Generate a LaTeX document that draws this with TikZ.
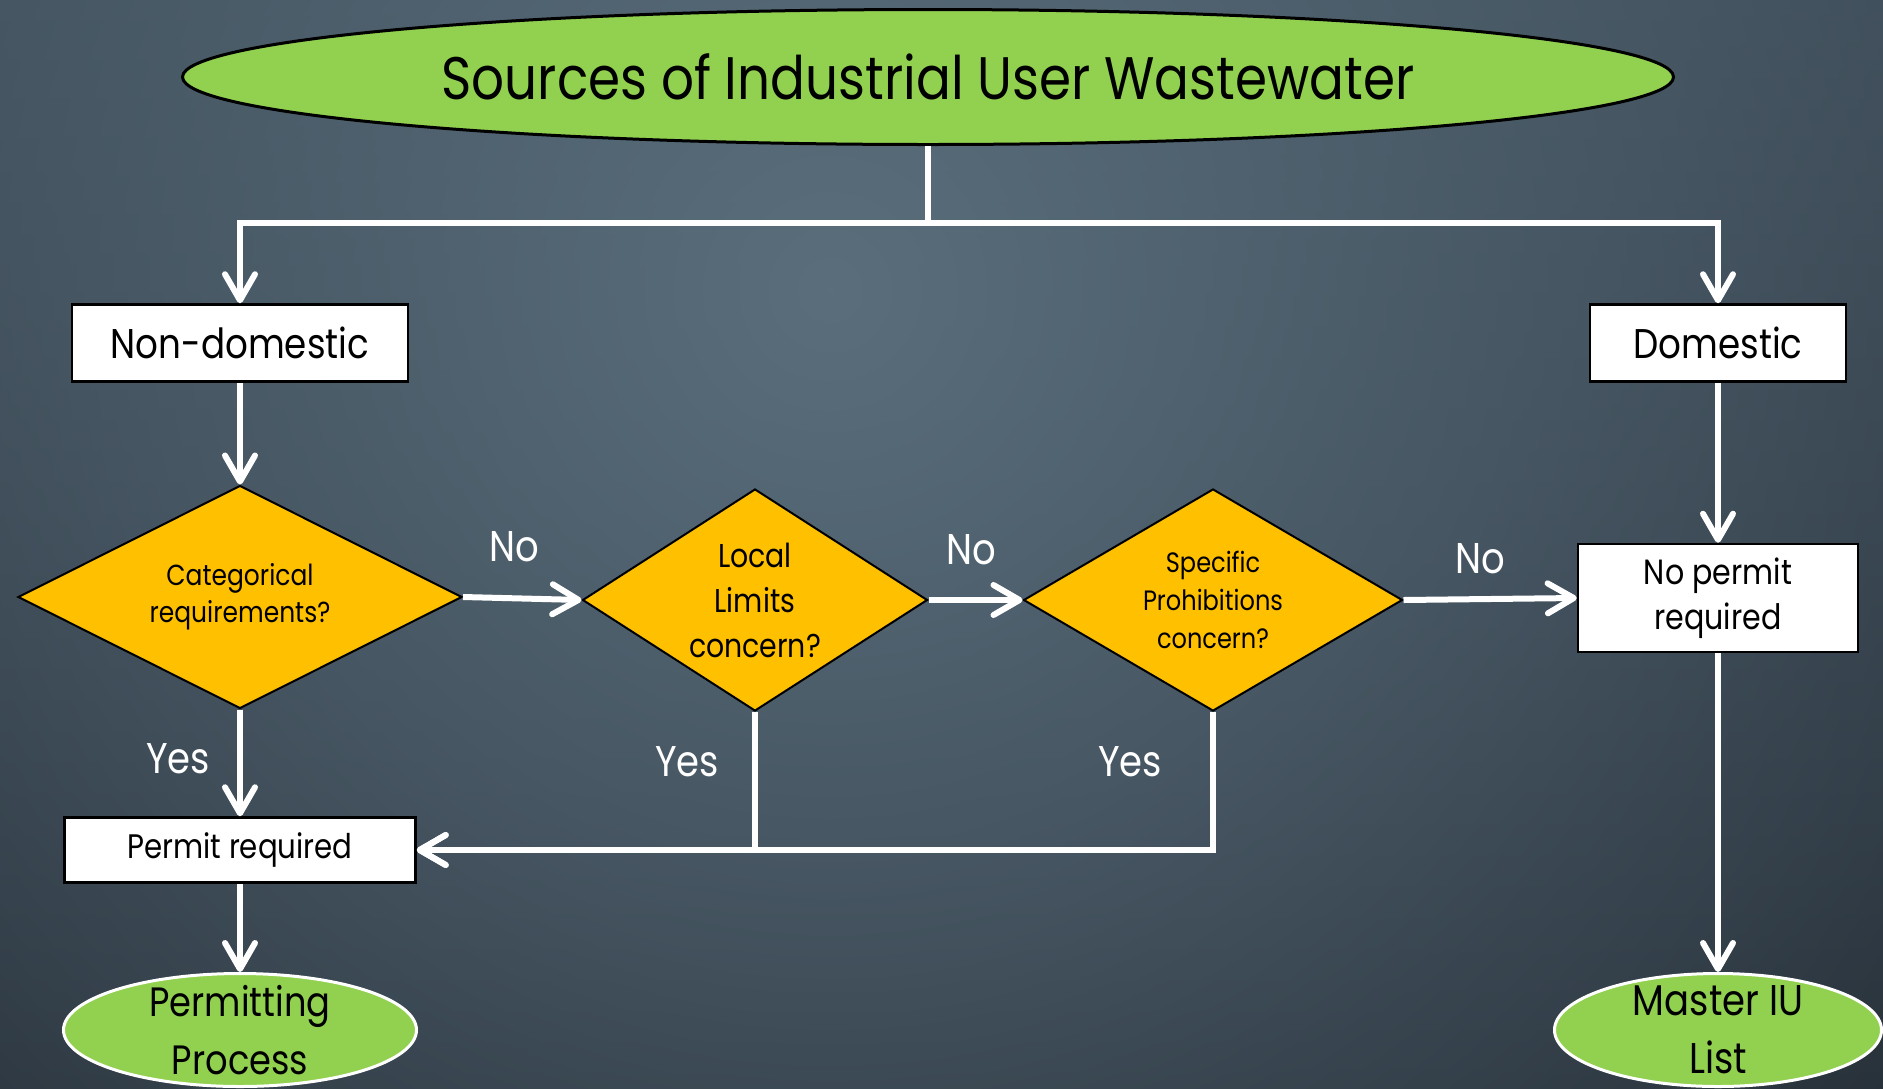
\documentclass[tikz,border=0pt]{standalone}
\usepackage{fontspec}
\setmainfont{Poppins}[FakeStretch=0.86]
\usetikzlibrary{arrows.meta,shapes.geometric,fadings}

\definecolor{leafgreen}{HTML}{92D050}
\definecolor{amber}{HTML}{FFC000}
\definecolor{slatetop}{HTML}{303C47}
\definecolor{slatebot}{HTML}{141920}
\definecolor{slateglow}{HTML}{5A6E7C}

\tikzfading[name=glow, inner color=transparent!0, outer color=transparent!100]

\newcommand{\fsz}[2]{\fontsize{#1}{#2}\selectfont}

\begin{document}
\begin{tikzpicture}[
    x=1pt, y=-1pt,
    source/.style={ellipse, draw=black, line width=3pt, fill=leafgreen, inner sep=0pt, minimum width=1491pt, minimum height=135pt, font=\fsz{60}{70}},
    outcome/.style={ellipse, draw=white, line width=3pt, fill=leafgreen, inner sep=0pt, minimum height=113pt},
    outtext/.style={align=center, font=\fsz{41}{58}},
    box/.style={draw=black, line width=2.5pt, fill=white, inner sep=0pt, align=center},
    decision/.style={diamond, shape aspect=1.5, draw=black, line width=2pt, fill=amber, inner sep=0pt, align=center, minimum height=222pt},
    flow/.style={draw=white, line width=6pt, -{Straight Barb[length=26pt, width=30pt, round]}},
    rail/.style={draw=white, line width=6pt},
    lab/.style={text=white, inner sep=0pt, font=\fsz{43}{50}}
]
\useasboundingbox (0,0) rectangle (1883,1088);
% backdrop: dark slate with a soft glow behind the title
\begin{scope}
  \clip (0,0) rectangle (1883,1088);
  \shade[top color=slatetop, bottom color=slatebot] (0,0) rectangle (1883,1088);
  \fill[slateglow, path fading=glow] (830,290) circle (1850pt);
\end{scope}

\node[source] (src) at (928,77) {Sources of Industrial User Wastewater};
\node[box, minimum width=336pt, minimum height=77pt, font=\fsz{41.5}{50}] (nondom) at (240,343) {Non-domestic};
\node[box, minimum width=256pt, minimum height=77pt, font=\fsz{41.5}{50}] (dom) at (1718,343) {Domestic};
\node[decision, minimum width=444pt, minimum height=223pt, font=\fsz{29}{37}] (cat) at (240,597) {Categorical\\requirements?};
\node[decision, minimum width=345pt, font=\fsz{33}{45}] (local) at (755,600) {Local\\Limits\\concern?};
\node[decision, minimum width=379pt, font=\fsz{28}{38}] (spec) at (1213,600) {Specific\\Prohibitions\\concern?};
\node[box, minimum width=280pt, minimum height=108pt, font=\fsz{35}{45}] (nopermit) at (1718,598) {No permit\\required};
\node[box, minimum width=351pt, minimum height=65pt, font=\fsz{34}{40}] (permit) at (240,850) {Permit required};
\node[outcome, minimum width=353pt, label={[outtext]center:{Permitting\\Process}}] (process) at (240,1030) {};
\node[outcome, minimum width=327pt, label={[outtext, font=\fsz{43}{58}]center:{Master IU\\List}}] (master) at (1718,1030) {};

\coordinate (split) at (928,223);
\draw[rail] (src.south) -- (split);
\draw[flow] (split) -| (nondom.north);
\draw[flow] (split) -| (dom.north);
\draw[flow] (nondom) -- (cat);
\draw[flow] (dom) -- (nopermit);
\draw[flow] (cat.east) -- node[lab, above=34pt, xshift=-8pt] {No} (local.west);
\draw[flow] (local.east) -- node[lab, above=32pt, xshift=-4pt] {No} (spec.west);
\draw[flow] (spec.east) -- node[lab, above=22pt, xshift=-10pt] {No} (nopermit.west);
\draw[flow] (cat) -- node[lab, left=27pt, pos=0.46] {Yes} (permit);
\draw[flow] (spec.south) |- node[lab, left=48pt, pos=0.18] {Yes} (permit.east);
\draw[flow] (local.south) |- node[lab, left=33pt, pos=0.18] {Yes} (permit.east);
\draw[flow] (permit) -- (process);
\draw[flow] (nopermit) -- (master);
\end{tikzpicture}
\end{document}
